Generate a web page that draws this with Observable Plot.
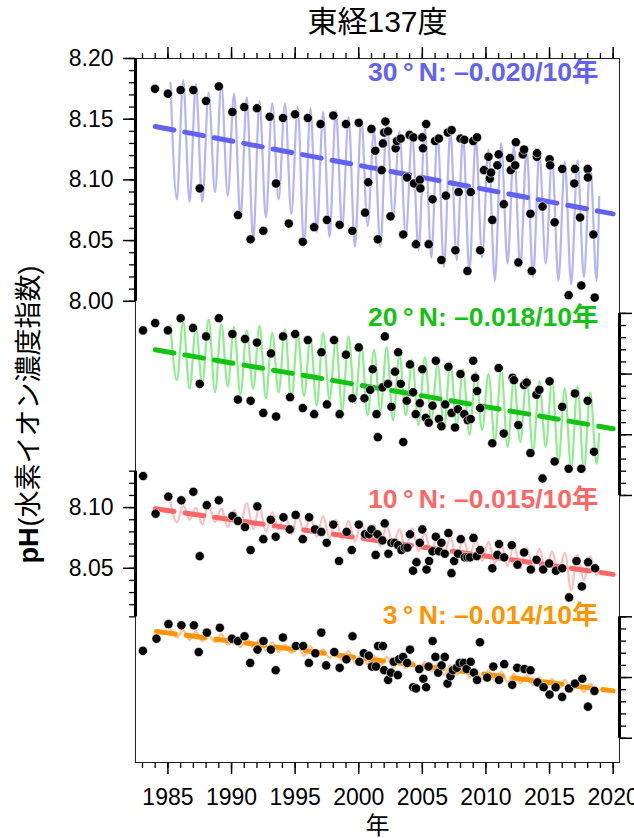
<!DOCTYPE html>
<html><head><meta charset="utf-8">
<script src="https://cdn.jsdelivr.net/npm/d3@7"></script>
<script src="https://cdn.jsdelivr.net/npm/@observablehq/plot@0.6"></script>
<style>
body{margin:0;background:#fff;}
#chart{width:634px;height:838px;}
</style>
</head><body><div id="chart"></div>
<script>
// ---------------- data ----------------
const title = "東経137度";
const xLabel = "年";
const yLabelA = "pH";
const yLabelB = "(水素イオン濃度指数)";
const xMajorTicks = [1985, 1990, 1995, 2000, 2005, 2010, 2015, 2020];
const labels = ["30\u2009°\u2009N: –0.020/10年", "20\u2009°\u2009N: –0.018/10年", "10\u2009°\u2009N: –0.015/10年", "3\u2009°\u2009N: –0.014/10年"];

// observed pH [year, pH]
const obs30 = [[1983.98,8.175],[1985.0,8.171],[1986.0,8.174],[1987.0,8.174],[1987.5,8.093],[1988.0,8.165],[1989.0,8.177],[1990.07,8.156],[1990.5,8.071],[1991.0,8.160],[1991.5,8.051],[1992.0,8.159],[1992.5,8.058],[1993.0,8.152],[1993.5,8.097],[1994.05,8.151],[1994.5,8.064],[1995.0,8.154],[1995.6,8.049],[1996.0,8.151],[1996.5,8.061],[1997.0,8.146],[1997.5,8.067],[1998.0,8.153],[1998.5,8.063],[1999.0,8.146],[1999.5,8.058],[2000.0,8.147],[2000.5,8.073],[2000.75,8.098],[2001.0,8.142],[2001.3,8.124],[2001.5,8.051],[2001.8,8.108],[2001.9,8.130],[2002.0,8.139],[2002.1,8.148],[2002.3,8.140],[2002.5,8.070],[2002.9,8.126],[2003.0,8.132],[2003.3,8.134],[2003.5,8.055],[2003.8,8.102],[2004.0,8.137],[2004.3,8.135],[2004.35,8.097],[2004.5,8.047],[2004.8,8.100],[2004.85,8.093],[2005.0,8.135],[2005.05,8.126],[2005.3,8.146],[2005.5,8.047],[2005.8,8.084],[2006.0,8.132],[2006.3,8.134],[2006.5,8.034],[2006.85,8.087],[2007.0,8.139],[2007.3,8.141],[2007.6,8.042],[2007.85,8.090],[2008.0,8.134],[2008.3,8.133],[2008.55,8.025],[2008.8,8.090],[2009.0,8.132],[2009.3,8.135],[2009.55,8.042],[2009.85,8.108],[2010.2,8.119],[2010.3,8.101],[2010.4,8.106],[2010.5,8.067],[2010.9,8.112],[2011.0,8.121],[2011.4,8.080],[2011.9,8.118],[2011.95,8.108],[2012.3,8.112],[2012.35,8.131],[2012.55,8.032],[2012.9,8.121],[2013.0,8.125],[2013.5,8.072],[2013.6,8.025],[2014.0,8.119],[2014.02,8.122],[2014.45,8.078],[2015.0,8.117],[2015.05,8.112],[2015.4,8.065],[2016.0,8.109],[2016.5,8.005],[2016.95,8.097],[2017.0,8.109],[2017.4,8.069],[2017.5,8.013],[2018.0,8.109],[2018.02,8.102],[2018.45,8.055],[2018.55,8.003]];
const obs20 = [[1983.04,8.136],[1984.0,8.142],[1985.0,8.136],[1986.0,8.146],[1986.97,8.138],[1987.5,8.092],[1988.0,8.131],[1989.0,8.146],[1990.07,8.133],[1990.5,8.079],[1991.06,8.129],[1991.5,8.078],[1992.0,8.126],[1992.5,8.068],[1993.1,8.117],[1993.5,8.065],[1994.05,8.131],[1994.6,8.081],[1995.0,8.133],[1995.6,8.072],[1996.0,8.128],[1996.5,8.067],[1997.07,8.118],[1997.5,8.075],[1998.06,8.128],[1998.5,8.067],[1999.0,8.116],[1999.5,8.080],[2000.0,8.122],[2000.45,8.080],[2000.9,8.087],[2001.1,8.104],[2001.4,8.067],[2001.5,8.048],[2001.86,8.089],[2002.05,8.131],[2002.3,8.092],[2002.57,8.073],[2002.85,8.102],[2003.1,8.118],[2003.3,8.092],[2003.5,8.044],[2003.77,8.078],[2004.03,8.108],[2004.27,8.085],[2004.48,8.067],[2004.8,8.076],[2005.0,8.104],[2005.27,8.064],[2005.5,8.060],[2005.8,8.074],[2006.06,8.111],[2006.3,8.063],[2006.5,8.057],[2006.8,8.075],[2007.05,8.106],[2007.3,8.068],[2007.57,8.056],[2007.8,8.071],[2008.0,8.100],[2008.3,8.067],[2008.57,8.062],[2008.8,8.063],[2009.0,8.111],[2009.15,8.097],[2009.3,8.086],[2009.55,8.072],[2010.5,8.043],[2011.0,8.105],[2011.4,8.051],[2012.1,8.097],[2012.2,8.095],[2012.55,8.058],[2013.0,8.091],[2013.2,8.093],[2013.5,8.035],[2013.97,8.083],[2014.2,8.087],[2014.45,8.014],[2015.0,8.094],[2015.4,8.028],[2016.0,8.073],[2016.5,8.022],[2017.0,8.084],[2017.5,8.022],[2018.0,8.078],[2018.5,8.036]];
const obs10 = [[1983.05,8.126],[1984.03,8.095],[1985.03,8.109],[1986.05,8.106],[1987.0,8.113],[1987.5,8.060],[1988.05,8.102],[1989.0,8.106],[1990.07,8.093],[1990.5,8.089],[1991.06,8.084],[1991.5,8.065],[1992.03,8.101],[1992.5,8.074],[1993.08,8.090],[1993.47,8.076],[1994.08,8.092],[1994.57,8.082],[1995.04,8.094],[1995.6,8.074],[1996.1,8.092],[1996.56,8.082],[1997.06,8.080],[1997.48,8.071],[1998.0,8.086],[1998.45,8.056],[1999.05,8.080],[1999.45,8.065],[2000.0,8.086],[2000.5,8.078],[2000.8,8.078],[2001.0,8.082],[2001.33,8.061],[2001.47,8.078],[2001.86,8.073],[2002.04,8.087],[2002.33,8.062],[2002.57,8.071],[2002.83,8.071],[2003.1,8.069],[2003.36,8.065],[2003.64,8.067],[2003.83,8.067],[2004.03,8.078],[2004.27,8.048],[2004.54,8.055],[2004.8,8.071],[2005.0,8.082],[2005.33,8.049],[2005.53,8.056],[2005.8,8.064],[2006.06,8.076],[2006.3,8.064],[2006.5,8.071],[2006.76,8.062],[2007.05,8.079],[2007.29,8.046],[2007.5,8.056],[2007.8,8.062],[2008.02,8.074],[2008.34,8.059],[2008.55,8.059],[2008.75,8.059],[2009.02,8.075],[2009.28,8.060],[2009.54,8.065],[2010.5,8.050],[2010.9,8.061],[2011.03,8.070],[2011.43,8.059],[2012.03,8.069],[2012.48,8.053],[2013.0,8.063],[2013.53,8.049],[2013.98,8.057],[2014.5,8.049],[2014.97,8.054],[2015.5,8.048],[2016.0,8.050],[2016.54,8.026],[2017.12,8.056],[2017.54,8.035],[2018.03,8.055],[2018.58,8.050]];
const obs3 = [[1983.03,8.072],[1984.1,8.082],[1985.04,8.094],[1986.06,8.093],[1987.04,8.093],[1987.42,8.071],[1988.06,8.087],[1989.08,8.091],[1990.03,8.082],[1990.5,8.080],[1991.02,8.084],[1991.47,8.062],[1992.04,8.073],[1992.51,8.080],[1993.09,8.073],[1993.47,8.056],[1994.04,8.083],[1995.06,8.076],[1995.63,8.076],[1996.08,8.062],[1996.59,8.070],[1997.06,8.087],[1997.44,8.060],[1998.08,8.071],[1998.5,8.058],[1999.03,8.065],[1999.51,8.084],[2000.05,8.063],[2000.4,8.070],[2000.79,8.068],[2001.04,8.059],[2001.36,8.059],[2001.52,8.076],[2001.9,8.076],[2002.0,8.056],[2002.31,8.048],[2002.53,8.054],[2002.75,8.063],[2003.07,8.052],[2003.17,8.065],[2003.49,8.067],[2003.81,8.062],[2004.03,8.073],[2004.28,8.042],[2004.5,8.041],[2004.76,8.057],[2005.08,8.049],[2005.3,8.042],[2005.49,8.059],[2005.81,8.080],[2006.03,8.067],[2006.25,8.054],[2006.51,8.060],[2006.76,8.067],[2006.98,8.045],[2007.21,8.051],[2007.4,8.056],[2007.71,8.058],[2007.94,8.062],[2008.26,8.062],[2008.48,8.057],[2008.8,8.063],[2009.05,8.054],[2009.3,8.048],[2009.53,8.079],[2010.1,8.050],[2010.58,8.059],[2011.03,8.048],[2011.44,8.061],[2012.07,8.044],[2012.46,8.058],[2013.03,8.057],[2013.5,8.056],[2014.05,8.046],[2014.53,8.042],[2015.0,8.036],[2015.48,8.042],[2015.99,8.034],[2016.53,8.041],[2017.0,8.045],[2017.58,8.049],[2018.02,8.026],[2018.53,8.039]];

// seasonal curve: alternating late-winter maximum / late-summer minimum, 1985-2018, then last value
const seas30 = [8.180,8.084, 8.182,8.082, 8.179,8.082, 8.172,8.090, 8.179,8.087, 8.171,8.068, 8.168,8.050, 8.165,8.069, 8.163,8.084, 8.163,8.072, 8.160,8.045, 8.159,8.057, 8.156,8.053, 8.157,8.061, 8.152,8.045, 8.150,8.062, 8.140,8.045, 8.148,8.069, 8.140,8.054, 8.138,8.042, 8.142,8.036, 8.138,8.028, 8.140,8.034, 8.136,8.024, 8.134,8.036, 8.125,8.017, 8.130,8.031, 8.128,8.028, 8.126,8.020, 8.122,8.031, 8.118,8.017, 8.115,8.014, 8.116,8.020, 8.112,8.017, 8.086];
const seas20 = [8.140,8.095, 8.143,8.088, 8.138,8.092, 8.145,8.085, 8.141,8.090, 8.139,8.083, 8.136,8.088, 8.140,8.080, 8.134,8.085, 8.137,8.078, 8.133,8.082, 8.130,8.074, 8.134,8.079, 8.128,8.070, 8.131,8.076, 8.124,8.066, 8.120,8.070, 8.122,8.062, 8.116,8.066, 8.112,8.058, 8.114,8.062, 8.108,8.055, 8.110,8.058, 8.104,8.050, 8.102,8.054, 8.100,8.045, 8.104,8.040, 8.096,8.044, 8.098,8.036, 8.094,8.040, 8.095,8.028, 8.088,8.022, 8.090,8.021, 8.085,8.026, 8.051];
const seas10 = [8.104,8.088, 8.102,8.090, 8.100,8.086, 8.103,8.088, 8.099,8.084, 8.098,8.086, 8.104,8.082, 8.101,8.080, 8.096,8.082, 8.095,8.078, 8.094,8.080, 8.092,8.076, 8.093,8.075, 8.090,8.074, 8.089,8.072, 8.088,8.073, 8.086,8.068, 8.085,8.070, 8.082,8.066, 8.083,8.064, 8.079,8.063, 8.078,8.061, 8.076,8.058, 8.075,8.060, 8.073,8.056, 8.072,8.054, 8.070,8.052, 8.069,8.050, 8.067,8.051, 8.066,8.048, 8.064,8.046, 8.063,8.032, 8.061,8.040, 8.060,8.044, 8.050];
const seas3 = [8.090,8.083, 8.089,8.081, 8.088,8.080, 8.085,8.079, 8.086,8.077, 8.083,8.075, 8.082,8.075, 8.081,8.072, 8.079,8.071, 8.077,8.070, 8.076,8.068, 8.076,8.067, 8.073,8.066, 8.072,8.064, 8.072,8.062, 8.069,8.061, 8.068,8.060, 8.067,8.058, 8.066,8.058, 8.063,8.056, 8.063,8.055, 8.061,8.052, 8.060,8.052, 8.059,8.050, 8.057,8.049, 8.056,8.047, 8.055,8.046, 8.053,8.045, 8.052,8.044, 8.050,8.042, 8.049,8.041, 8.048,8.038, 8.046,8.038, 8.045,8.037, 8.040];

// linear trends [[startYear, pH], [endYear, pH]]
const trend30 = [[1984.0, 8.144], [2020.0, 8.072]];
const trend20 = [[1984.0, 8.120], [2020.0, 8.055]];
const trend10 = [[1984.0, 8.099], [2020.0, 8.045]];
const trend3  = [[1984.1, 8.088], [2020.0, 8.039]];

// ---------------- layout / style ----------------
const FONT = "'Liberation Sans', Arial, 'Noto Sans CJK JP', sans-serif";
const xDomain = [1982.45, 2020.5];
const yDomain = [7.62, 8.20];           // stacked virtual pH axis
const panelOffsets = [0, -0.16, -0.27, -0.36];
const panelStyle = [
  {main: "#6262f2", light: "#b4b4f7", side: "left",  major: [8.00,8.05,8.10,8.15,8.20], minor: [8.00,8.20], showLabels: true,  labelDy: 14.5},
  {main: "#13c313", light: "#8ded8d", side: "right", major: [8.00,8.05,8.10,8.15],      minor: [8.00,8.15], showLabels: false, labelDy: 259.5},
  {main: "#ff6666", light: "#ffbcbc", side: "left",  major: [8.05,8.10],                minor: [8.01,8.13], showLabels: true,  labelDy: 441},
  {main: "#ff9400", light: "#ffc184", side: "right", major: [8.00,8.05,8.10],           minor: [8.00,8.10], showLabels: false, labelDy: 557}
];
const obsAll = [obs30, obs20, obs10, obs3];
const seasAll = [seas30, seas20, seas10, seas3];
const trendAll = [trend30, trend20, trend10, trend3];

const marks = [];
const r2 = v => Math.round(v * 100) / 100;

// seasonal lines
seasAll.forEach((s, k) => {
  const off = panelOffsets[k];
  const pts = s.map((v, i) => ({t: i < s.length - 1 ? 1985.2 + i * 0.5 : 2018.9, v: v + off}));
  marks.push(Plot.line(pts, {x: "t", y: "v", stroke: panelStyle[k].light, strokeWidth: 2.2, curve: "monotone-x"}));
});
// trend lines
trendAll.forEach((tr, k) => {
  const off = panelOffsets[k];
  marks.push(Plot.line(tr.map(([t, v]) => ({t, v: v + off})), {x: "t", y: "v", stroke: panelStyle[k].main, strokeWidth: 5, strokeDasharray: "19,11"}));
});
// observations
obsAll.forEach((o, k) => {
  const off = panelOffsets[k];
  marks.push(Plot.dot(o.map(([t, v]) => ({t, v: v + off})), {x: "t", y: "v", r: 4.6, fill: "#000", stroke: "#fff", strokeWidth: 0.6}));
});

// frame
marks.push(Plot.frame({stroke: "#222", strokeWidth: 1}));

// per-panel y axes
panelStyle.forEach((p, k) => {
  const off = panelOffsets[k];
  const minorVals = d3.range(Math.round(p.minor[0]*100), Math.round(p.minor[1]*100) + 1).map(d => d / 100 + off);
  const majorVals = p.major.map(d => d + off);
  marks.push(Plot.axisY(minorVals, {anchor: p.side, tickSize: 6, tickFormat: () => "", strokeWidth: 1.3, label: null}));
  marks.push(Plot.axisY(majorVals, {anchor: p.side, tickSize: 12, tickPadding: 10, strokeWidth: 1.5, label: null,
    tickFormat: p.showLabels ? (d => r2(d - off).toFixed(2)) : (() => ""), fontSize: 23, fontFamily: FONT}));
  marks.push(Plot.ruleX([p.side === "left" ? xDomain[0] : xDomain[1]],
    {y1: p.minor[0] + off, y2: p.minor[1] + off, stroke: "#000", strokeWidth: 3}));
});

// x axes (top and bottom)
const minorYears = d3.range(1983, 2021);
["top", "bottom"].forEach(side => {
  marks.push(Plot.axisX(minorYears, {anchor: side, tickSize: 6, tickFormat: () => "", strokeWidth: 1.3, label: null}));
  marks.push(Plot.axisX(xMajorTicks, {anchor: side, tickSize: 12, tickPadding: 14, strokeWidth: 1.5, label: null,
    tickFormat: side === "bottom" ? (d => String(d)) : (() => ""), fontSize: 23, fontFamily: FONT}));
});

// series labels
labels.forEach((lab, k) => {
  marks.push(Plot.text([lab], {frameAnchor: "top-right", dx: -21, dy: panelStyle[k].labelDy, textAnchor: "end",
    lineAnchor: "middle", fill: panelStyle[k].main, fontWeight: "bold", fontSize: 26.5, fontFamily: FONT}));
});

// title and axis labels
marks.push(Plot.text([title], {frameAnchor: "top", dy: -36, lineAnchor: "middle", fontSize: 30, fill: "#000", fontFamily: FONT}));
marks.push(Plot.text([xLabel], {frameAnchor: "bottom", dy: 64, lineAnchor: "middle", fontSize: 24, fill: "#000", fontFamily: FONT}));
marks.push(Plot.text([yLabelA], {frameAnchor: "left", dx: -106, dy: 153, rotate: -90, textAnchor: "start", fontWeight: "bold", fontSize: 27, fill: "#000", fontFamily: FONT}));
marks.push(Plot.text([yLabelB], {frameAnchor: "left", dx: -106, dy: 116, rotate: -90, textAnchor: "start", fontSize: 27, fill: "#000", fontFamily: FONT}));

const chart = Plot.plot({
  width: 634, height: 838,
  marginTop: 58, marginBottom: 76, marginLeft: 135, marginRight: 15,
  x: {domain: xDomain},
  y: {domain: yDomain},
  style: {fontFamily: FONT, fontSize: "23px", color: "#000", background: "#fff", overflow: "visible"},
  marks
});
document.getElementById("chart").appendChild(chart);
</script>
</body></html>
